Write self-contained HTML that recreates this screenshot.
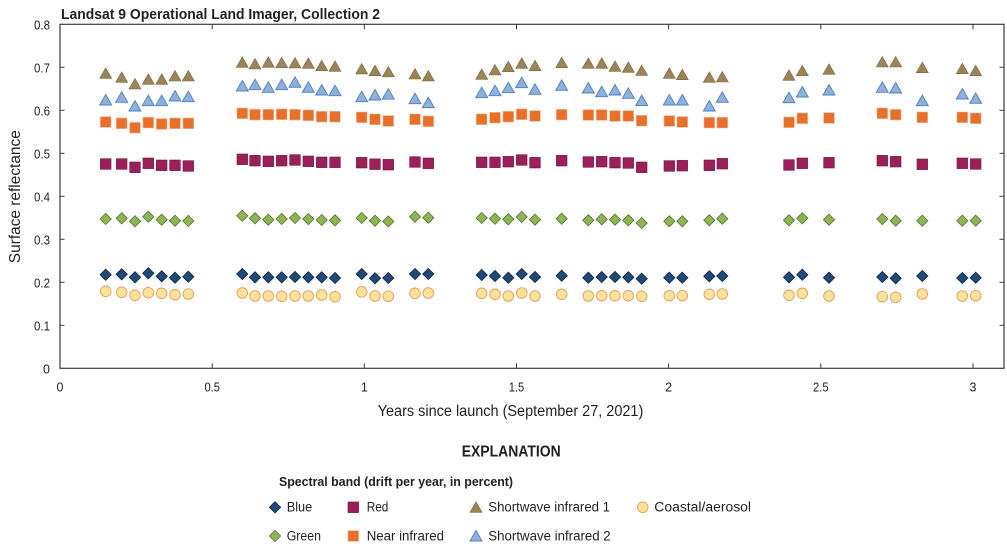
<!DOCTYPE html>
<html>
<head>
<meta charset="utf-8">
<style>
html,body{margin:0;padding:0;background:#fff;}
svg{display:block;}
text{font-family:"Liberation Sans Narrow","Liberation Sans",sans-serif;fill:#231f20;}
</style>
</head>
<body>
<svg width="1007" height="547" viewBox="0 0 1007 547" xmlns="http://www.w3.org/2000/svg">
<defs>
<g id="t1"><polygon points="0,-5.5 6,5 -6,5" fill="#9c8456" stroke="#7a6642" stroke-width="0.6"/></g>
<g id="t2"><polygon points="0,-5.5 6,5 -6,5" fill="#8eb1db" stroke="#4f7fbf" stroke-width="0.9"/></g>
<g id="sn"><rect x="-5.3" y="-5.3" width="10.6" height="10.6" fill="#e8702a" stroke="#eeab85" stroke-width="0.6"/></g>
<g id="sr"><rect x="-5.3" y="-5.3" width="10.6" height="10.6" fill="#9c1f5a" stroke="#6a1440" stroke-width="0.6"/></g>
<g id="dg"><polygon points="0,-5.6 5.6,0 0,5.6 -5.6,0" fill="#8fb456" stroke="#4c7a2c" stroke-width="0.8"/></g>
<g id="db"><polygon points="0,-5.6 5.6,0 0,5.6 -5.6,0" fill="#1f4978" stroke="#0e2440" stroke-width="0.8"/></g>
<g id="cc"><circle r="5.3" fill="#fde39a" stroke="#e79c5e" stroke-width="0.9"/></g>
</defs>

<!-- Title -->
<text x="61" y="19" font-size="14.5" font-weight="bold" textLength="319" lengthAdjust="spacingAndGlyphs">Landsat 9 Operational Land Imager, Collection 2</text>

<!-- Plot frame -->
<rect x="60" y="24.3" width="944" height="344" fill="none" stroke="#3a3a3a" stroke-width="1.2"/>

<!-- x ticks bottom & top -->
<g stroke="#3a3a3a" stroke-width="1">
<line x1="212.2" y1="368.3" x2="212.2" y2="363.3"/><line x1="364.3" y1="368.3" x2="364.3" y2="363.3"/>
<line x1="516.5" y1="368.3" x2="516.5" y2="363.3"/><line x1="668.6" y1="368.3" x2="668.6" y2="363.3"/>
<line x1="820.8" y1="368.3" x2="820.8" y2="363.3"/><line x1="973" y1="368.3" x2="973" y2="363.3"/>
<line x1="212.2" y1="24.3" x2="212.2" y2="29.3"/><line x1="364.3" y1="24.3" x2="364.3" y2="29.3"/>
<line x1="516.5" y1="24.3" x2="516.5" y2="29.3"/><line x1="668.6" y1="24.3" x2="668.6" y2="29.3"/>
<line x1="820.8" y1="24.3" x2="820.8" y2="29.3"/><line x1="973" y1="24.3" x2="973" y2="29.3"/>
<!-- y ticks left & right -->
<line x1="60" y1="325.3" x2="64.5" y2="325.3"/><line x1="60" y1="282.3" x2="64.5" y2="282.3"/>
<line x1="60" y1="239.3" x2="64.5" y2="239.3"/><line x1="60" y1="196.3" x2="64.5" y2="196.3"/>
<line x1="60" y1="153.3" x2="64.5" y2="153.3"/><line x1="60" y1="110.3" x2="64.5" y2="110.3"/>
<line x1="60" y1="67.3" x2="64.5" y2="67.3"/>
<line x1="1004" y1="325.3" x2="999.5" y2="325.3"/><line x1="1004" y1="282.3" x2="999.5" y2="282.3"/>
<line x1="1004" y1="239.3" x2="999.5" y2="239.3"/><line x1="1004" y1="196.3" x2="999.5" y2="196.3"/>
<line x1="1004" y1="153.3" x2="999.5" y2="153.3"/><line x1="1004" y1="110.3" x2="999.5" y2="110.3"/>
<line x1="1004" y1="67.3" x2="999.5" y2="67.3"/>
</g>

<!-- y tick labels -->
<g font-size="12.5" text-anchor="end">
<text x="50" y="373.3">0</text>
<text x="50" y="330.3" textLength="16" lengthAdjust="spacingAndGlyphs">0.1</text>
<text x="50" y="287.3" textLength="16" lengthAdjust="spacingAndGlyphs">0.2</text>
<text x="50" y="244.3" textLength="16" lengthAdjust="spacingAndGlyphs">0.3</text>
<text x="50" y="201.3" textLength="16" lengthAdjust="spacingAndGlyphs">0.4</text>
<text x="50" y="158.3" textLength="16" lengthAdjust="spacingAndGlyphs">0.5</text>
<text x="50" y="115.3" textLength="16" lengthAdjust="spacingAndGlyphs">0.6</text>
<text x="50" y="72.3" textLength="16" lengthAdjust="spacingAndGlyphs">0.7</text>
<text x="50" y="29.3" textLength="16" lengthAdjust="spacingAndGlyphs">0.8</text>
</g>

<!-- x tick labels -->
<g font-size="12.5" text-anchor="middle">
<text x="60" y="391.7">0</text>
<text x="212.2" y="391.7" textLength="15.5" lengthAdjust="spacingAndGlyphs">0.5</text>
<text x="364.3" y="391.7">1</text>
<text x="516.5" y="391.7" textLength="15.5" lengthAdjust="spacingAndGlyphs">1.5</text>
<text x="668.6" y="391.7">2</text>
<text x="820.8" y="391.7" textLength="15.5" lengthAdjust="spacingAndGlyphs">2.5</text>
<text x="973" y="391.7">3</text>
</g>

<!-- axis titles -->
<text transform="translate(20,196.7) rotate(-90)" font-size="15.5" text-anchor="middle" textLength="133" lengthAdjust="spacingAndGlyphs">Surface reflectance</text>
<text x="377.7" y="416" font-size="15.5" textLength="265.6" lengthAdjust="spacingAndGlyphs">Years since launch (September 27, 2021)</text>

<!-- Data: coastal -->
<g>
<use href="#cc" x="105.7" y="291.3"/><use href="#cc" x="121.7" y="292.3"/><use href="#cc" x="135" y="295.3"/><use href="#cc" x="148.3" y="292.7"/><use href="#cc" x="161.7" y="293.3"/><use href="#cc" x="175" y="294.7"/><use href="#cc" x="188.3" y="294"/>
<use href="#cc" x="242.3" y="293"/><use href="#cc" x="255" y="296"/><use href="#cc" x="268.3" y="296"/><use href="#cc" x="281.7" y="296.3"/><use href="#cc" x="295" y="296"/><use href="#cc" x="308.3" y="296"/><use href="#cc" x="321.7" y="295"/><use href="#cc" x="335" y="296.7"/>
<use href="#cc" x="361.7" y="291.8"/><use href="#cc" x="375" y="296"/><use href="#cc" x="388.3" y="296.2"/><use href="#cc" x="415" y="293.3"/><use href="#cc" x="428.3" y="293"/>
<use href="#cc" x="481.7" y="293.3"/><use href="#cc" x="495" y="294.3"/><use href="#cc" x="508.3" y="296"/><use href="#cc" x="521.7" y="293"/><use href="#cc" x="535" y="296"/><use href="#cc" x="561.7" y="294.3"/>
<use href="#cc" x="588.3" y="296"/><use href="#cc" x="601.7" y="295.7"/><use href="#cc" x="615" y="295.7"/><use href="#cc" x="628.3" y="295.7"/><use href="#cc" x="641.7" y="296.3"/>
<use href="#cc" x="669.3" y="295.7"/><use href="#cc" x="682.3" y="295.7"/><use href="#cc" x="709.3" y="294.3"/><use href="#cc" x="722.3" y="294"/>
<use href="#cc" x="789" y="295.3"/><use href="#cc" x="802.3" y="293.3"/><use href="#cc" x="829" y="296"/>
<use href="#cc" x="882.3" y="296.7"/><use href="#cc" x="895.7" y="297.3"/><use href="#cc" x="922.3" y="294"/><use href="#cc" x="962.3" y="296"/><use href="#cc" x="975.7" y="295.7"/>
</g>
<!-- blue -->
<g>
<use href="#db" x="105.7" y="274.7"/><use href="#db" x="121.7" y="274.3"/><use href="#db" x="135" y="277.3"/><use href="#db" x="148.3" y="273.3"/><use href="#db" x="161.7" y="276.3"/><use href="#db" x="175" y="277.7"/><use href="#db" x="188.3" y="276.7"/>
<use href="#db" x="242.3" y="274"/><use href="#db" x="255" y="277.3"/><use href="#db" x="268.3" y="277.3"/><use href="#db" x="281.7" y="277.3"/><use href="#db" x="295" y="277"/><use href="#db" x="308.3" y="277.3"/><use href="#db" x="321.7" y="277.3"/><use href="#db" x="335" y="278"/>
<use href="#db" x="361.7" y="274"/><use href="#db" x="375" y="278.3"/><use href="#db" x="388.3" y="278"/><use href="#db" x="415" y="274"/><use href="#db" x="428.3" y="274"/>
<use href="#db" x="481.7" y="275"/><use href="#db" x="495" y="276"/><use href="#db" x="508.3" y="277.7"/><use href="#db" x="521.7" y="274"/><use href="#db" x="535" y="277"/><use href="#db" x="561.7" y="275.7"/>
<use href="#db" x="588.3" y="277.7"/><use href="#db" x="601.7" y="277"/><use href="#db" x="615" y="277"/><use href="#db" x="628.3" y="277.3"/><use href="#db" x="641.7" y="278.7"/>
<use href="#db" x="669.3" y="277.7"/><use href="#db" x="682.3" y="277.7"/><use href="#db" x="709.3" y="276.3"/><use href="#db" x="722.3" y="276"/>
<use href="#db" x="789" y="277.3"/><use href="#db" x="802.3" y="274.7"/><use href="#db" x="829" y="277.7"/>
<use href="#db" x="882.3" y="277"/><use href="#db" x="895.7" y="278.3"/><use href="#db" x="922.3" y="276"/><use href="#db" x="962.3" y="278"/><use href="#db" x="975.7" y="277.7"/>
</g>
<!-- green -->
<g>
<use href="#dg" x="105.7" y="219"/><use href="#dg" x="121.7" y="218.3"/><use href="#dg" x="135" y="221.3"/><use href="#dg" x="148.3" y="216.7"/><use href="#dg" x="161.7" y="219.7"/><use href="#dg" x="175" y="220.7"/><use href="#dg" x="188.3" y="221"/>
<use href="#dg" x="242.3" y="215.7"/><use href="#dg" x="255" y="218.3"/><use href="#dg" x="268.3" y="219.7"/><use href="#dg" x="281.7" y="219"/><use href="#dg" x="295" y="218"/><use href="#dg" x="308.3" y="219"/><use href="#dg" x="321.7" y="220"/><use href="#dg" x="335" y="220.3"/>
<use href="#dg" x="361.7" y="218"/><use href="#dg" x="375" y="220.7"/><use href="#dg" x="388.3" y="221.5"/><use href="#dg" x="415" y="216.7"/><use href="#dg" x="428.3" y="217.7"/>
<use href="#dg" x="481.7" y="218"/><use href="#dg" x="495" y="218.7"/><use href="#dg" x="508.3" y="219.3"/><use href="#dg" x="521.7" y="217"/><use href="#dg" x="535" y="219.7"/><use href="#dg" x="561.7" y="218.7"/>
<use href="#dg" x="588.3" y="220.3"/><use href="#dg" x="601.7" y="219.3"/><use href="#dg" x="615" y="219.7"/><use href="#dg" x="628.3" y="220.3"/><use href="#dg" x="641.7" y="223"/>
<use href="#dg" x="669.3" y="221.3"/><use href="#dg" x="682.3" y="221.3"/><use href="#dg" x="709.3" y="220.3"/><use href="#dg" x="722.3" y="218.7"/>
<use href="#dg" x="789" y="220.3"/><use href="#dg" x="802.3" y="218.3"/><use href="#dg" x="829" y="219.7"/>
<use href="#dg" x="882.3" y="219"/><use href="#dg" x="895.7" y="220.7"/><use href="#dg" x="922.3" y="220.7"/><use href="#dg" x="962.3" y="220.7"/><use href="#dg" x="975.7" y="220.7"/>
</g>
<!-- red -->
<g>
<use href="#sr" x="105.7" y="164"/><use href="#sr" x="121.7" y="164"/><use href="#sr" x="135" y="167.3"/><use href="#sr" x="148.3" y="163.3"/><use href="#sr" x="161.7" y="165.3"/><use href="#sr" x="175" y="165.3"/><use href="#sr" x="188.3" y="166"/>
<use href="#sr" x="242.3" y="159.3"/><use href="#sr" x="255" y="160.7"/><use href="#sr" x="268.3" y="161.3"/><use href="#sr" x="281.7" y="160.7"/><use href="#sr" x="295" y="160"/><use href="#sr" x="308.3" y="161.3"/><use href="#sr" x="321.7" y="162.3"/><use href="#sr" x="335" y="162.3"/>
<use href="#sr" x="361.7" y="162.7"/><use href="#sr" x="375" y="164.2"/><use href="#sr" x="388.3" y="164.7"/><use href="#sr" x="415" y="162"/><use href="#sr" x="428.3" y="163.3"/>
<use href="#sr" x="481.7" y="162.3"/><use href="#sr" x="495" y="162.3"/><use href="#sr" x="508.3" y="161.7"/><use href="#sr" x="521.7" y="160"/><use href="#sr" x="535" y="162.7"/><use href="#sr" x="561.7" y="160.7"/>
<use href="#sr" x="588.3" y="162"/><use href="#sr" x="601.7" y="161.7"/><use href="#sr" x="615" y="162.7"/><use href="#sr" x="628.3" y="163"/><use href="#sr" x="641.7" y="167.3"/>
<use href="#sr" x="669.3" y="166"/><use href="#sr" x="682.3" y="165.7"/><use href="#sr" x="709.3" y="165.3"/><use href="#sr" x="722.3" y="163.7"/>
<use href="#sr" x="789" y="165"/><use href="#sr" x="802.3" y="163.3"/><use href="#sr" x="829" y="162.7"/>
<use href="#sr" x="882.3" y="160.7"/><use href="#sr" x="895.7" y="161.7"/><use href="#sr" x="922.3" y="164.3"/><use href="#sr" x="962.3" y="163.3"/><use href="#sr" x="975.7" y="164"/>
</g>
<!-- NIR -->
<g>
<use href="#sn" x="105.7" y="122"/><use href="#sn" x="121.7" y="123.3"/><use href="#sn" x="135" y="127.7"/><use href="#sn" x="148.3" y="122.7"/><use href="#sn" x="161.7" y="124"/><use href="#sn" x="175" y="123.3"/><use href="#sn" x="188.3" y="123.3"/>
<use href="#sn" x="242.3" y="113.3"/><use href="#sn" x="255" y="114.7"/><use href="#sn" x="268.3" y="114.7"/><use href="#sn" x="281.7" y="114.3"/><use href="#sn" x="295" y="114.7"/><use href="#sn" x="308.3" y="115.3"/><use href="#sn" x="321.7" y="116.7"/><use href="#sn" x="335" y="116.7"/>
<use href="#sn" x="361.7" y="117.3"/><use href="#sn" x="375" y="119.3"/><use href="#sn" x="388.3" y="121"/><use href="#sn" x="415" y="119.3"/><use href="#sn" x="428.3" y="121.3"/>
<use href="#sn" x="481.7" y="119.3"/><use href="#sn" x="495" y="117.7"/><use href="#sn" x="508.3" y="116.7"/><use href="#sn" x="521.7" y="114.3"/><use href="#sn" x="535" y="116"/><use href="#sn" x="561.7" y="114.7"/>
<use href="#sn" x="588.3" y="115"/><use href="#sn" x="601.7" y="115"/><use href="#sn" x="615" y="116"/><use href="#sn" x="628.3" y="116"/><use href="#sn" x="641.7" y="120.7"/>
<use href="#sn" x="669.3" y="121"/><use href="#sn" x="682.3" y="122"/><use href="#sn" x="709.3" y="122.7"/><use href="#sn" x="722.3" y="122.7"/>
<use href="#sn" x="789" y="122.3"/><use href="#sn" x="802.3" y="118.3"/><use href="#sn" x="829" y="118"/>
<use href="#sn" x="882.3" y="113.3"/><use href="#sn" x="895.7" y="114.7"/><use href="#sn" x="922.3" y="117.3"/><use href="#sn" x="962.3" y="117.3"/><use href="#sn" x="975.7" y="118.3"/>
</g>
<!-- SWIR1 -->
<g>
<use href="#t1" x="105.7" y="73.3"/><use href="#t1" x="121.7" y="77.3"/><use href="#t1" x="135" y="84"/><use href="#t1" x="148.3" y="79.3"/><use href="#t1" x="161.7" y="79.3"/><use href="#t1" x="175" y="76"/><use href="#t1" x="188.3" y="76"/>
<use href="#t1" x="242.3" y="62.3"/><use href="#t1" x="255" y="64"/><use href="#t1" x="268.3" y="62.3"/><use href="#t1" x="281.7" y="62.7"/><use href="#t1" x="295" y="63"/><use href="#t1" x="308.3" y="63.3"/><use href="#t1" x="321.7" y="65.7"/><use href="#t1" x="335" y="66.3"/>
<use href="#t1" x="361.7" y="69"/><use href="#t1" x="375" y="70.7"/><use href="#t1" x="388.3" y="71.8"/><use href="#t1" x="415" y="74"/><use href="#t1" x="428.3" y="76"/>
<use href="#t1" x="481.7" y="74.3"/><use href="#t1" x="495" y="70"/><use href="#t1" x="508.3" y="66.7"/><use href="#t1" x="521.7" y="63.3"/><use href="#t1" x="535" y="65.7"/><use href="#t1" x="561.7" y="62.7"/>
<use href="#t1" x="588.3" y="63.3"/><use href="#t1" x="601.7" y="63.3"/><use href="#t1" x="615" y="66.3"/><use href="#t1" x="628.3" y="67.3"/><use href="#t1" x="641.7" y="70.5"/>
<use href="#t1" x="669.3" y="73.3"/><use href="#t1" x="682.3" y="74.7"/><use href="#t1" x="709.3" y="77.3"/><use href="#t1" x="722.3" y="77"/>
<use href="#t1" x="789" y="75.3"/><use href="#t1" x="802.3" y="70.7"/><use href="#t1" x="829" y="69.3"/>
<use href="#t1" x="882.3" y="62"/><use href="#t1" x="895.7" y="62"/><use href="#t1" x="922.3" y="67.7"/><use href="#t1" x="962.3" y="68.7"/><use href="#t1" x="975.7" y="70.7"/>
</g>
<!-- SWIR2 -->
<g>
<use href="#t2" x="105.7" y="100"/><use href="#t2" x="121.7" y="97.3"/><use href="#t2" x="135" y="106"/><use href="#t2" x="148.3" y="100.7"/><use href="#t2" x="161.7" y="100.7"/><use href="#t2" x="175" y="96"/><use href="#t2" x="188.3" y="96.7"/>
<use href="#t2" x="242.3" y="86"/><use href="#t2" x="255" y="84.7"/><use href="#t2" x="268.3" y="87.3"/><use href="#t2" x="281.7" y="84.7"/><use href="#t2" x="295" y="82.3"/><use href="#t2" x="308.3" y="87.3"/><use href="#t2" x="321.7" y="90"/><use href="#t2" x="335" y="90.7"/>
<use href="#t2" x="361.7" y="96.7"/><use href="#t2" x="375" y="95"/><use href="#t2" x="388.3" y="94.2"/><use href="#t2" x="415" y="98.7"/><use href="#t2" x="428.3" y="102.7"/>
<use href="#t2" x="481.7" y="92.7"/><use href="#t2" x="495" y="90.7"/><use href="#t2" x="508.3" y="87.7"/><use href="#t2" x="521.7" y="82.7"/><use href="#t2" x="535" y="89.3"/><use href="#t2" x="561.7" y="85.3"/>
<use href="#t2" x="588.3" y="88"/><use href="#t2" x="601.7" y="91.7"/><use href="#t2" x="615" y="90"/><use href="#t2" x="628.3" y="93.3"/><use href="#t2" x="641.7" y="100.5"/>
<use href="#t2" x="669.3" y="100"/><use href="#t2" x="682.3" y="100"/><use href="#t2" x="709.3" y="106"/><use href="#t2" x="722.3" y="97.3"/>
<use href="#t2" x="789" y="97.7"/><use href="#t2" x="802.3" y="92"/><use href="#t2" x="829" y="90"/>
<use href="#t2" x="882.3" y="87.3"/><use href="#t2" x="895.7" y="88"/><use href="#t2" x="922.3" y="100.7"/><use href="#t2" x="962.3" y="94"/><use href="#t2" x="975.7" y="98.3"/>
</g>

<!-- Explanation -->
<text x="461.7" y="456.7" font-size="15.5" font-weight="bold" textLength="99" lengthAdjust="spacingAndGlyphs">EXPLANATION</text>
<text x="279" y="486" font-size="12.5" font-weight="bold" textLength="234" lengthAdjust="spacingAndGlyphs">Spectral band (drift per year, in percent)</text>

<use href="#db" x="275" y="507.3"/>
<text x="286.7" y="511.7" font-size="13.5" textLength="25.6" lengthAdjust="spacingAndGlyphs">Blue</text>
<use href="#sr" x="353.3" y="507.3"/>
<text x="366.7" y="511.7" font-size="13.5" textLength="21.6" lengthAdjust="spacingAndGlyphs">Red</text>
<use href="#t1" x="476" y="507.3"/>
<text x="488.3" y="511.7" font-size="13.5" textLength="121.7" lengthAdjust="spacingAndGlyphs">Shortwave infrared 1</text>
<use href="#cc" x="642.7" y="507.3"/>
<text x="654.3" y="511.7" font-size="13.5" textLength="96.7" lengthAdjust="spacingAndGlyphs">Coastal/aerosol</text>

<use href="#dg" x="275" y="536"/>
<text x="286.7" y="540.7" font-size="13.5" textLength="34.3" lengthAdjust="spacingAndGlyphs">Green</text>
<use href="#sn" x="353.3" y="536"/>
<text x="366.7" y="540.7" font-size="13.5" textLength="77.3" lengthAdjust="spacingAndGlyphs">Near infrared</text>
<use href="#t2" x="476" y="536"/>
<text x="488.3" y="540.7" font-size="13.5" textLength="122.4" lengthAdjust="spacingAndGlyphs">Shortwave infrared 2</text>
</svg>
</body>
</html>
